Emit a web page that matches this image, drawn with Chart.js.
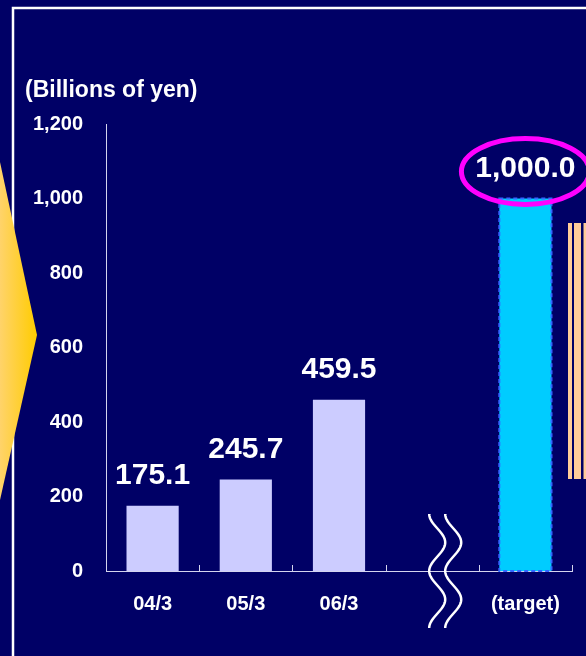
<!DOCTYPE html>
<html lang="en">
<head>
<meta charset="UTF-8">
<title>Billions of yen</title>
<script src="https://cdn.jsdelivr.net/npm/chart.js"></script>
<style>
    html, body { margin: 0; padding: 0; background: #000066; }
    .chart-box { position: relative; width: 586px; height: 656px; }
</style>
</head>
<body>
<div class="chart-box"><canvas id="yenChart"></canvas></div>
<script>
    // values
    const categories = ['04/3', '05/3', '06/3', '', '(target)'];
    const values = [175.1, 245.7, 459.5, null, 1000.0];
    const valueLabels = ['175.1', '245.7', '459.5', '', '1,000.0'];
    const barColors = ['#ccccff', '#ccccff', '#ccccff', '#ccccff', '#00ccff'];
    const yMin = 0;
    const yMax = 1200;
    const yStep = 200;
    const targetIndex = 4;
    const breakIndex = 3;

    const FONT = '"Liberation Sans", Arial, sans-serif';
    const axisColor = '#d4d4ee';

    // slide furniture behind the chart: frame, arrow, stripes, unit title
    const backdrop = {
        id: 'backdrop',
        beforeDraw(chart) {
            const ctx = chart.ctx;
            ctx.save();
            ctx.fillStyle = '#000066';
            ctx.fillRect(0, 0, chart.width, chart.height);

            ctx.strokeStyle = '#ffffff';
            ctx.lineWidth = 2.5;
            ctx.beginPath();
            ctx.moveTo(chart.width, 8);
            ctx.lineTo(13, 8);
            ctx.lineTo(13, chart.height);
            ctx.stroke();

            const grad = ctx.createLinearGradient(0, 0, 37, 0);
            grad.addColorStop(0, '#ffd36a');
            grad.addColorStop(1, '#ffcc00');
            ctx.fillStyle = grad;
            ctx.beginPath();
            ctx.moveTo(0, 162);
            ctx.lineTo(37, 335);
            ctx.lineTo(0, 500);
            ctx.closePath();
            ctx.fill();

            ctx.fillStyle = '#ffcc99';
            ctx.fillRect(568, 223, 4, 256);
            ctx.fillRect(574, 223, 7, 256);
            ctx.fillRect(583.5, 223, 3, 256);

            ctx.fillStyle = '#ffffff';
            ctx.font = 'bold 23px ' + FONT;
            ctx.textAlign = 'left';
            ctx.textBaseline = 'alphabetic';
            ctx.fillText('(Billions of yen)', 25, 97);
            ctx.restore();
        }
    };

    // value labels, target outline, ellipse, axis break and x ticks
    const overlay = {
        id: 'overlay',
        afterDatasetsDraw(chart) {
            const ctx = chart.ctx;
            const meta = chart.getDatasetMeta(0);
            const xScale = chart.scales.x;
            const axisY = chart.chartArea.bottom;
            ctx.save();

            // upward tick marks on category boundaries
            const w = xScale.width / categories.length;
            ctx.strokeStyle = axisColor;
            ctx.lineWidth = 1;
            for (let k = 1; k <= categories.length; k++) {
                const x = Math.round(xScale.left + k * w) + 0.5;
                ctx.beginPath();
                ctx.moveTo(x, axisY);
                ctx.lineTo(x, axisY - 6);
                ctx.stroke();
            }

            // dashed outline of the target bar
            const t = meta.data[targetIndex].getProps(['x', 'y', 'base', 'width'], true);
            ctx.strokeStyle = '#3366ff';
            ctx.lineWidth = 2;
            ctx.setLineDash([4, 3]);
            ctx.strokeRect(t.x - t.width / 2, t.y, t.width, t.base - t.y);
            ctx.setLineDash([]);

            ctx.fillStyle = '#ffffff';
            ctx.font = 'bold 30px ' + FONT;
            ctx.textAlign = 'center';
            ctx.textBaseline = 'middle';
            meta.data.forEach((bar, i) => {
                if (values[i] === null) return;
                const p = bar.getProps(['x', 'y'], true);
                ctx.fillText(valueLabels[i], p.x, p.y - 30);
            });

            ctx.strokeStyle = '#ff00ff';
            ctx.lineWidth = 5;
            ctx.beginPath();
            ctx.ellipse(t.x, t.y - 27, 64, 33, 0, 0, Math.PI * 2);
            ctx.stroke();

            // wavy break marks
            const cx = xScale.getPixelForValue(breakIndex) + 5;
            ctx.strokeStyle = '#ffffff';
            ctx.lineWidth = 2.5;
            [cx, cx + 16].forEach(c => {
                ctx.beginPath();
                for (let y = axisY - 57; y <= axisY + 57; y++) {
                    const x = c - 8 * Math.cos(Math.PI * (y - (axisY - 57)) / 28.5);
                    if (y === axisY - 57) ctx.moveTo(x, y); else ctx.lineTo(x, y);
                }
                ctx.stroke();
            });
            ctx.restore();
        }
    };

    new Chart(document.getElementById('yenChart'), {
        type: 'bar',
        data: {
            labels: categories,
            datasets: [{
                data: values,
                backgroundColor: barColors,
                borderWidth: 0,
                barPercentage: 0.56,
                categoryPercentage: 1.0
            }]
        },
        options: {
            responsive: true,
            maintainAspectRatio: false,
            animation: false,
            layout: { padding: { left: 32, top: 124, right: 14, bottom: 0 } },
            plugins: {
                legend: { display: false },
                tooltip: { enabled: false }
            },
            scales: {
                x: {
                    offset: true,
                    grid: { display: false, drawTicks: false },
                    border: { display: true, color: axisColor, width: 1 },
                    ticks: {
                        color: '#ffffff',
                        font: { family: FONT, size: 20, weight: 'bold' },
                        padding: 21,
                        maxRotation: 0,
                        autoSkip: false
                    },
                    afterFit(scale) { scale.height = 85; }
                },
                y: {
                    min: yMin,
                    max: yMax,
                    grid: { display: false, drawTicks: false },
                    border: { display: true, color: axisColor, width: 1 },
                    ticks: {
                        stepSize: yStep,
                        color: '#ffffff',
                        font: { family: FONT, size: 20, weight: 'bold' },
                        padding: 23,
                        callback: v => v.toLocaleString('en-US')
                    },
                    afterFit(scale) { scale.width = 74; }
                }
            }
        },
        plugins: [backdrop, overlay]
    });
</script>
</body>
</html>
